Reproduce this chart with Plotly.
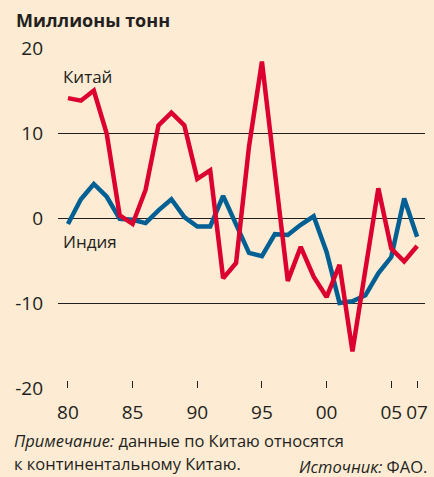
import plotly.graph_objects as go

years = list(range(1980, 2008))
china = [14.1, 13.8, 15.0, 9.9, 0.3, -0.7, 3.3, 10.9, 12.4, 10.9, 4.6, 5.6, -7.1, -5.3, 8.4, 18.4,
         5.4, -7.4, -3.4, -6.9, -9.3, -5.5, -15.7, -5.7, 3.5, -3.6, -5.1, -3.3]
india = [-0.7, 2.2, 4.0, 2.5, -0.1, -0.2, -0.6, 0.9, 2.2, 0.1, -1.0, -1.0, 2.6, -0.8, -4.1, -4.5,
         -1.9, -2.0, -0.8, 0.2, -4.0, -10.0, -9.8, -9.1, -6.5, -4.6, 2.3, -2.2]
tick_vals = [1980, 1985, 1990, 1995, 2000, 2005, 2007]
tick_text = ["80", "85", "90", "95", "00", "05", "07"]
y_ticks = [-20, -10, 0, 10, 20]

RED = "#dc0030"
BLUE = "#005f93"
BG = "#fdebd3"
INK = "#231f20"
FONT = "Open Sans"
PW, PH = 370, 340

fig = go.Figure()
fig.add_trace(go.Scatter(x=years, y=india, mode="lines", line=dict(color=BLUE, width=4.5),
                         hoverinfo="skip"))
fig.add_trace(go.Scatter(x=years, y=china, mode="lines", line=dict(color=RED, width=4.5),
                         hoverinfo="skip"))

fig.update_layout(
    width=434, height=477,
    paper_bgcolor=BG, plot_bgcolor=BG,
    showlegend=False,
    margin=dict(l=58, r=6, t=48, b=89),
    font=dict(family=FONT, color=INK, size=16),
    xaxis=dict(range=[1979.23, 2007.61], tickvals=tick_vals, ticktext=tick_text,
               showgrid=False, zeroline=False, showline=False,
               ticks="inside", ticklen=7, tickwidth=1.2, tickcolor=INK,
               tickfont=dict(size=19, family=FONT), ticklabelstandoff=11),
    yaxis=dict(range=[-20, 20], tickvals=y_ticks, ticktext=[str(v) for v in y_ticks],
               showgrid=True, gridcolor=INK, gridwidth=1.2,
               zeroline=True, zerolinecolor=INK, zerolinewidth=1.2,
               showline=False, ticks="", tickfont=dict(size=19, family=FONT),
               ticklabelstandoff=14),
)

fig.add_annotation(xref="paper", yref="paper", x=(14 - 58) / PW, y=1 + 28 / PH, xanchor="left",
                   yanchor="middle", text="<b>Миллионы тонн</b>", showarrow=False,
                   font=dict(size=18, family=FONT, color=INK))
fig.add_annotation(xref="x", yref="y", x=1979.5, y=16.6, xanchor="left", yanchor="middle",
                   text="Китай", showarrow=False, font=dict(size=17, family=FONT, color=INK))
fig.add_annotation(xref="x", yref="y", x=1979.5, y=-2.8, xanchor="left", yanchor="middle",
                   text="Индия", showarrow=False, font=dict(size=17, family=FONT, color=INK))
fig.add_annotation(xref="paper", yref="paper", x=(12 - 58) / PW, y=-53 / PH, xanchor="left",
                   yanchor="middle", text="<i>Примечание:</i> данные по Китаю относятся",
                   showarrow=False, font=dict(size=16.5, family=FONT, color=INK))
fig.add_annotation(xref="paper", yref="paper", x=(12 - 58) / PW, y=-75 / PH, xanchor="left",
                   yanchor="middle", text="к континентальному Китаю.",
                   showarrow=False, font=dict(size=16.5, family=FONT, color=INK))
fig.add_annotation(xref="paper", yref="paper", x=1 + 4 / PW, y=-78 / PH, xanchor="right",
                   yanchor="middle", text="<i>Источник:</i> ФАО.",
                   showarrow=False, font=dict(size=16.5, family=FONT, color=INK))

fig.write_html("out.html", config={"displayModeBar": False},
               post_script="document.body.style.margin='0';"
                           "document.body.style.background='" + BG + "';")
